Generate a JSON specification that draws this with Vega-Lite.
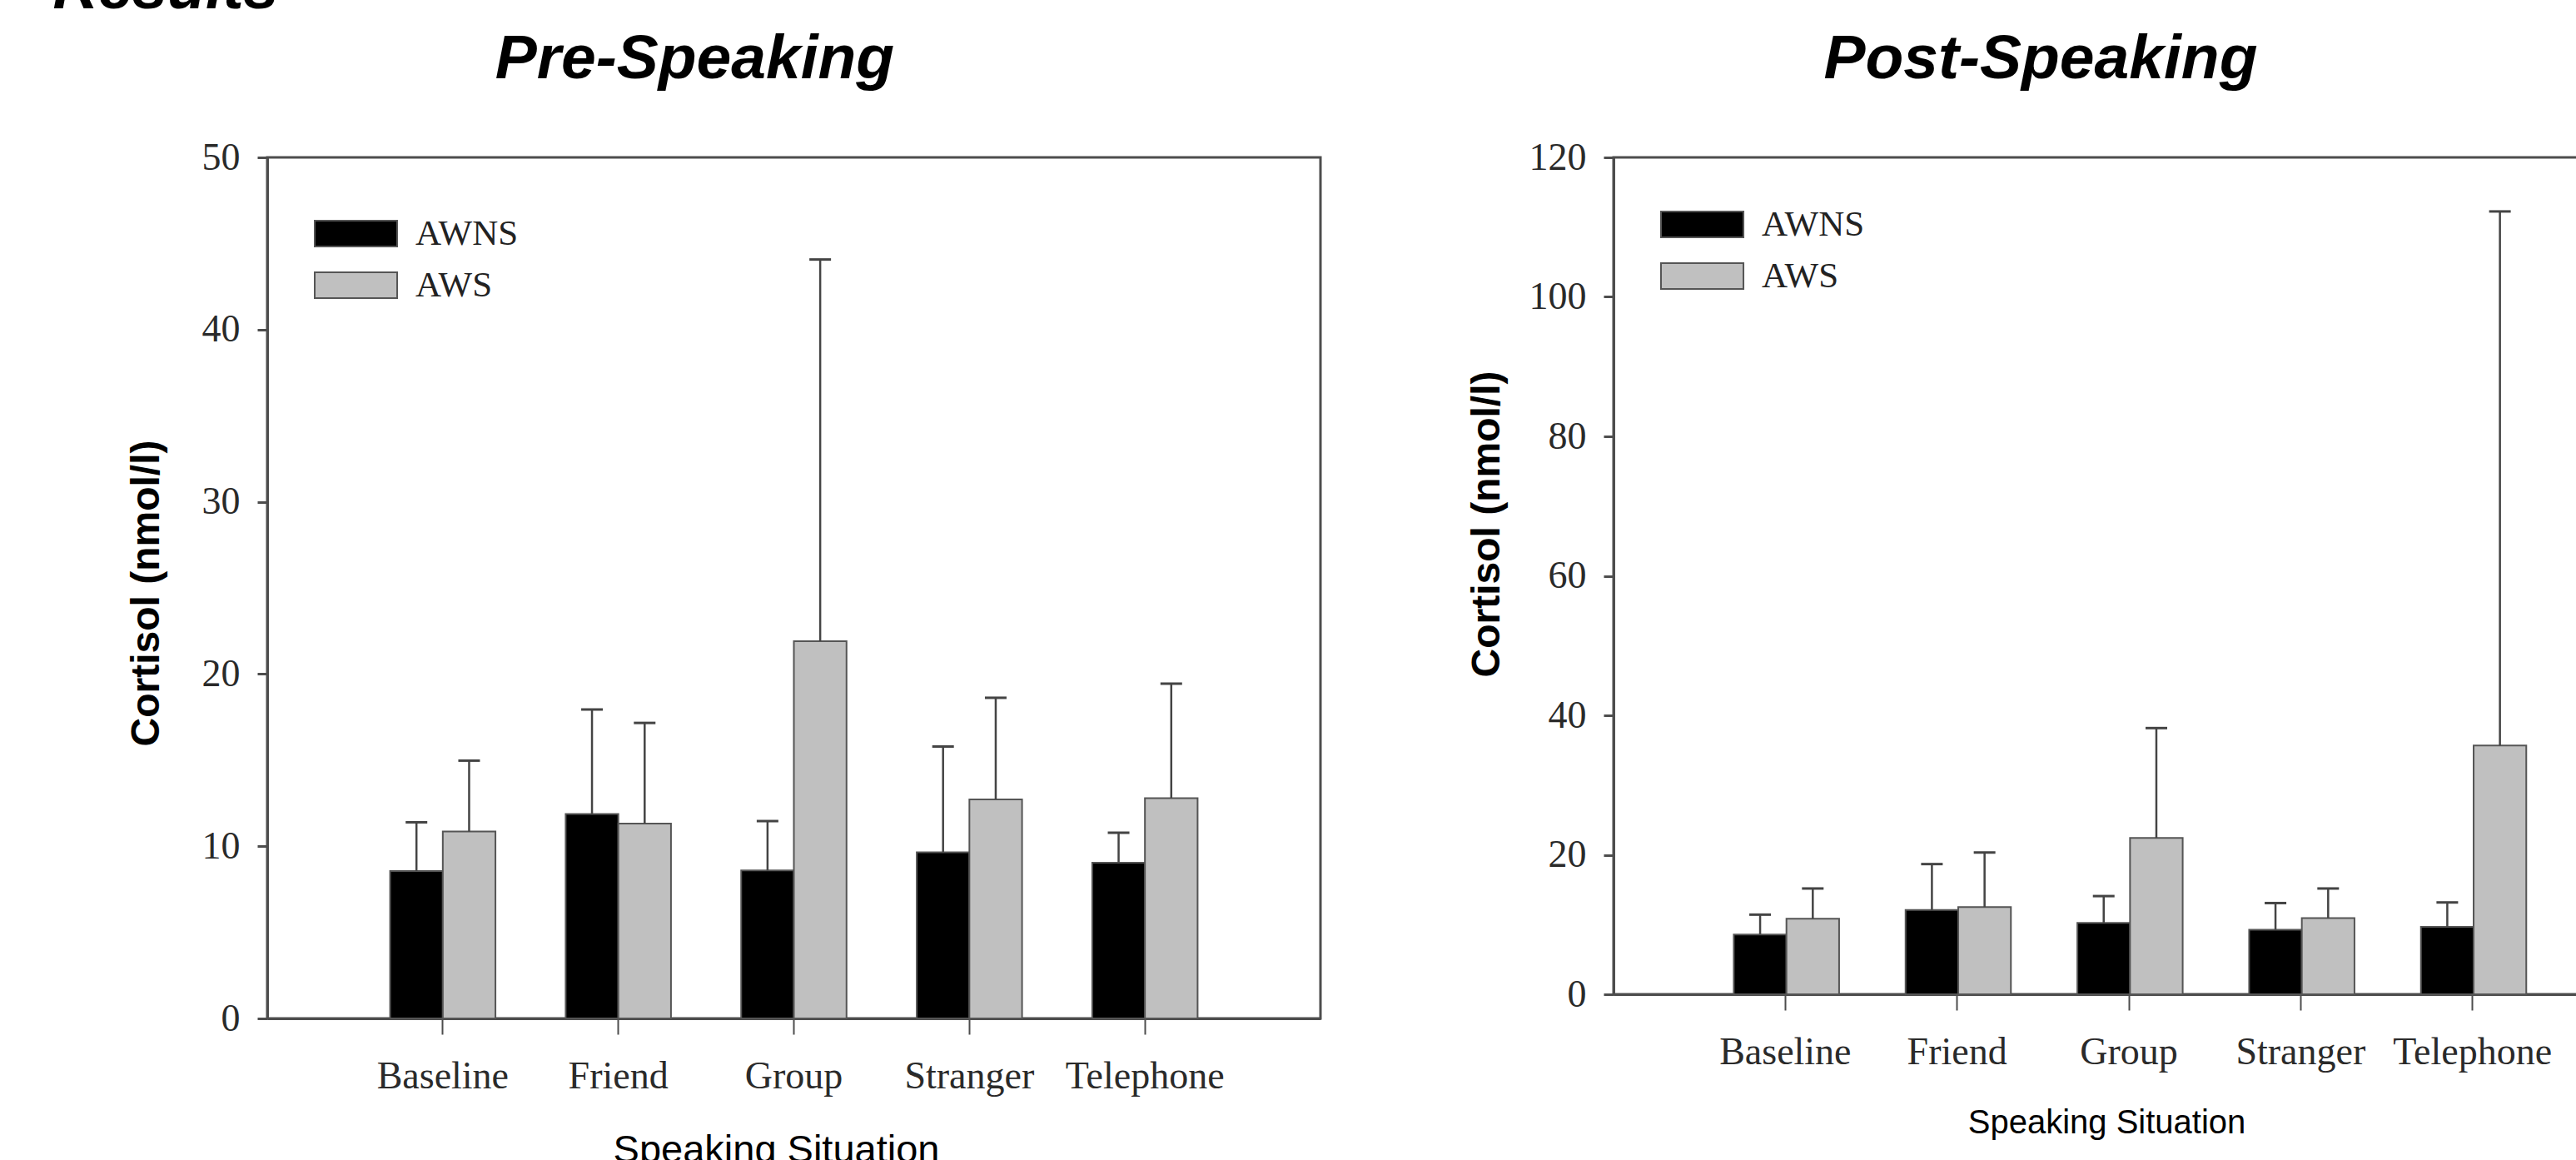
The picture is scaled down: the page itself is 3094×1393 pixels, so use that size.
{
  "$schema": "https://vega.github.io/schema/vega-lite/v6.json",
  "padding": {"left": 63, "top": -50, "right": 0, "bottom": 0},
  "background": "#ffffff",
  "title": {"text": "Results", "anchor": "start", "dx": -87, "fontSize": 75, "font": "Liberation Sans", "fontWeight": "bold", "fontStyle": "italic", "color": "#000000", "offset": 6},
  "datasets": {
    "pre": [
      {"situation": "Baseline", "group": "AWNS", "mean": 8.56, "upper": 11.39},
      {"situation": "Baseline", "group": "AWS", "mean": 10.85, "upper": 14.97},
      {"situation": "Friend", "group": "AWNS", "mean": 11.87, "upper": 17.94},
      {"situation": "Friend", "group": "AWS", "mean": 11.32, "upper": 17.16},
      {"situation": "Group", "group": "AWNS", "mean": 8.59, "upper": 11.46},
      {"situation": "Group", "group": "AWS", "mean": 21.9, "upper": 44.07},
      {"situation": "Stranger", "group": "AWNS", "mean": 9.65, "upper": 15.79},
      {"situation": "Stranger", "group": "AWS", "mean": 12.72, "upper": 18.62},
      {"situation": "Telephone", "group": "AWNS", "mean": 9.04, "upper": 10.78},
      {"situation": "Telephone", "group": "AWS", "mean": 12.79, "upper": 19.44}
    ],
    "post": [
      {"situation": "Baseline", "group": "AWNS", "mean": 8.58, "upper": 11.42},
      {"situation": "Baseline", "group": "AWS", "mean": 10.83, "upper": 15.17},
      {"situation": "Friend", "group": "AWNS", "mean": 12.08, "upper": 18.67},
      {"situation": "Friend", "group": "AWS", "mean": 12.5, "upper": 20.33},
      {"situation": "Group", "group": "AWNS", "mean": 10.25, "upper": 14.08},
      {"situation": "Group", "group": "AWS", "mean": 22.42, "upper": 38.17},
      {"situation": "Stranger", "group": "AWNS", "mean": 9.25, "upper": 13.08},
      {"situation": "Stranger", "group": "AWS", "mean": 10.92, "upper": 15.17},
      {"situation": "Telephone", "group": "AWNS", "mean": 9.67, "upper": 13.17},
      {"situation": "Telephone", "group": "AWS", "mean": 35.67, "upper": 112.25}
    ]
  },
  "spacing": 172,
  "resolve": {"scale": {"x": "independent", "y": "independent", "color": "independent"}, "legend": {"color": "independent"}, "axis": {"x": "independent", "y": "independent"}},
  "hconcat": [
    {
      "width": 1265,
      "height": 1034,
      "title": {"text": "Pre-Speaking", "frame": "group", "anchor": "middle", "dx": -119, "offset": 56.5},
      "data": {"name": "pre"},
      "encoding": {
        "x": {"field": "situation", "type": "nominal", "sort": ["Baseline", "Friend", "Group", "Stranger", "Telephone"], "scale": {"paddingInner": 0.4, "paddingOuter": 0.7}, "axis": {"title": "Speaking Situation", "titleX": 611, "titlePadding": 43, "titleFontSize": 47}},
        "xOffset": {"field": "group", "type": "nominal", "sort": ["AWNS", "AWS"]}
      },
      "layer": [
        {
          "mark": {"type": "bar", "stroke": "#555555", "strokeWidth": 2},
          "encoding": {
            "y": {"field": "mean", "type": "quantitative", "scale": {"domain": [0, 50], "nice": false}, "axis": {"values": [0, 10, 20, 30, 40, 50], "title": "Cortisol (nmol/l)", "titleX": -121, "titleY": 523}},
            "color": {"field": "group", "type": "nominal", "sort": ["AWNS", "AWS"], "scale": {"domain": ["AWNS", "AWS"], "range": ["#000000", "#c0c0c0"]},
              "legend": {"title": null, "orient": "none", "legendX": 51, "legendY": 70, "symbolType": "M-1,-1H5.39V1H-1Z", "symbolSize": 961, "symbolStrokeColor": "#555555", "symbolStrokeWidth": 2, "symbolOpacity": 1, "labelOffset": 84, "labelFont": "Liberation Serif", "labelFontSize": 43, "labelColor": "#222222", "rowPadding": 18}}
          }
        },
        {
          "mark": {"type": "rule", "color": "#444444", "strokeWidth": 2.5},
          "encoding": {
            "y": {"field": "mean", "type": "quantitative", "scale": {"domain": [0, 50], "nice": false}, "axis": {"values": [0, 10, 20, 30, 40, 50], "title": "Cortisol (nmol/l)", "titleX": -121, "titleY": 523}},
            "y2": {"field": "upper"}
          }
        },
        {
          "mark": {"type": "tick", "color": "#444444", "thickness": 3, "size": 26, "opacity": 1},
          "encoding": {
            "y": {"field": "upper", "type": "quantitative", "scale": {"domain": [0, 50], "nice": false}, "axis": {"values": [0, 10, 20, 30, 40, 50], "title": "Cortisol (nmol/l)", "titleX": -121, "titleY": 523}}
          }
        }
      ]
    },
    {
      "width": 1238,
      "height": 1005,
      "title": {"text": "Post-Speaking", "frame": "group", "anchor": "middle", "dx": -106, "offset": 56.5},
      "data": {"name": "post"},
      "encoding": {
        "x": {"field": "situation", "type": "nominal", "sort": ["Baseline", "Friend", "Group", "Stranger", "Telephone"], "scale": {"paddingInner": 0.4, "paddingOuter": 0.7}, "axis": {"title": "Speaking Situation", "titleX": 592, "titlePadding": 42, "titleFontSize": 40}},
        "xOffset": {"field": "group", "type": "nominal", "sort": ["AWNS", "AWS"]}
      },
      "layer": [
        {
          "mark": {"type": "bar", "stroke": "#555555", "strokeWidth": 2},
          "encoding": {
            "y": {"field": "mean", "type": "quantitative", "scale": {"domain": [0, 120], "nice": false}, "axis": {"values": [0, 20, 40, 60, 80, 100, 120], "title": "Cortisol (nmol/l)", "titleX": -128, "titleY": 440}},
            "color": {"field": "group", "type": "nominal", "sort": ["AWNS", "AWS"], "scale": {"domain": ["AWNS", "AWS"], "range": ["#000000", "#c0c0c0"]},
              "legend": {"title": null, "orient": "none", "legendX": 51, "legendY": 59, "symbolType": "M-1,-1H5.39V1H-1Z", "symbolSize": 961, "symbolStrokeColor": "#555555", "symbolStrokeWidth": 2, "symbolOpacity": 1, "labelOffset": 84, "labelFont": "Liberation Serif", "labelFontSize": 43, "labelColor": "#222222", "rowPadding": 18}}
          }
        },
        {
          "mark": {"type": "rule", "color": "#444444", "strokeWidth": 2.5},
          "encoding": {
            "y": {"field": "mean", "type": "quantitative", "scale": {"domain": [0, 120], "nice": false}, "axis": {"values": [0, 20, 40, 60, 80, 100, 120], "title": "Cortisol (nmol/l)", "titleX": -128, "titleY": 440}},
            "y2": {"field": "upper"}
          }
        },
        {
          "mark": {"type": "tick", "color": "#444444", "thickness": 3, "size": 26, "opacity": 1},
          "encoding": {
            "y": {"field": "upper", "type": "quantitative", "scale": {"domain": [0, 120], "nice": false}, "axis": {"values": [0, 20, 40, 60, 80, 100, 120], "title": "Cortisol (nmol/l)", "titleX": -128, "titleY": 440}}
          }
        }
      ]
    }
  ],
  "config": {
    "view": {"stroke": "#4d4d4d", "strokeWidth": 3},
    "title": {"font": "Liberation Sans", "fontSize": 75, "fontWeight": "bold", "fontStyle": "italic", "color": "#000000"},
    "axis": {
      "grid": false,
      "domainColor": "#4d4d4d",
      "domainWidth": 3,
      "tickColor": "#4d4d4d",
      "labelFont": "Liberation Serif",
      "labelFontSize": 46,
      "labelColor": "#2a2a2a",
      "labelLimit": 0,
      "titleFont": "Liberation Sans",
      "titleColor": "#000000"
    },
    "axisY": {"tickSize": 12, "tickWidth": 3, "labelPadding": 21, "titleFontSize": 48, "titleFontWeight": "bold"},
    "axisX": {"tickSize": 19, "tickWidth": 2, "labelPadding": 28, "labelAngle": 0, "titleFontSize": 42, "titleFontWeight": "normal"}
  }
}
